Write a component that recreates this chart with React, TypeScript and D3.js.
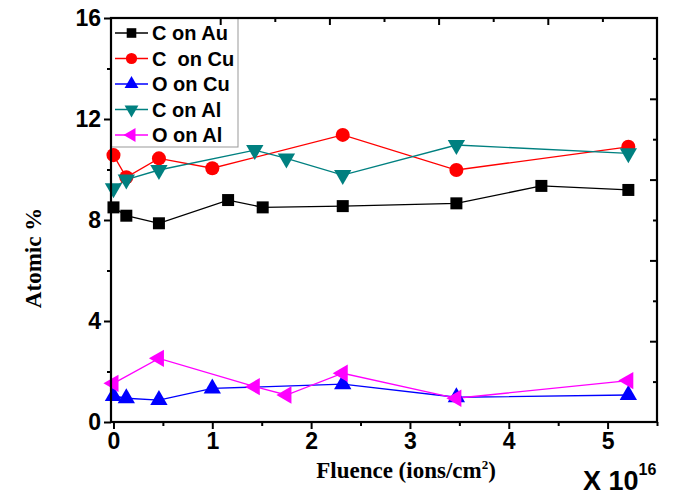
import {useEffect, useRef} from 'react';
import * as d3 from 'd3';

const [W, H] = [693, 495];

// fluence (x 10^16 ions/cm2) and atomic % per series
const auX = [0, 0.13, 0.46, 1.16, 1.51, 2.32, 3.47, 4.33, 5.21];
const cOnAu = [8.5, 8.17, 7.87, 8.79, 8.5, 8.55, 8.66, 9.35, 9.19];

const cuX = [0, 0.13, 0.46, 1.0, 2.32, 3.47, 5.21];
const cOnCu = [10.57, 9.69, 10.44, 10.05, 11.37, 9.98, 10.9];
const oOnCu = [1.03, 0.94, 0.87, 1.33, 1.5, 0.98, 1.07];

const alCX = [0, 0.13, 0.46, 1.43, 1.75, 2.32, 3.47, 5.21];
const cOnAl = [9.26, 9.6, 9.98, 10.77, 10.44, 9.78, 10.97, 10.64];

const alOX = [0, 0.46, 1.43, 1.75, 2.32, 3.47, 5.21];
const oOnAl = [1.53, 2.52, 1.4, 1.07, 1.93, 0.94, 1.64];

const seriesNames = ['C on Au', 'C  on Cu', 'O on Cu', 'C on Al', 'O on Al'];
const xTicks = [0, 1, 2, 3, 4, 5];
const yTicks = [0, 4, 8, 12, 16];

const series = [
    {name: seriesNames[0], xs: auX, ys: cOnAu, color: '#000000', shape: 'square'},
    {name: seriesNames[1], xs: cuX, ys: cOnCu, color: '#ff0000', shape: 'circle'},
    {name: seriesNames[2], xs: cuX, ys: oOnCu, color: '#0000ff', shape: 'up'},
    {name: seriesNames[3], xs: alCX, ys: cOnAl, color: '#008080', shape: 'down'},
    {name: seriesNames[4], xs: alOX, ys: oOnAl, color: '#ff00ff', shape: 'left'},
];

const markerPath = (shape) => {
    if (shape === 'square') return d3.symbol(d3.symbolSquare, 144)();
    if (shape === 'circle') return d3.symbol(d3.symbolCircle, 155)();
    return d3.symbol(d3.symbolTriangle, 130)();
};
const markerRot = {square: 0, circle: 0, up: 0, down: 180, left: -90};

function App() {
    const svgRef = useRef(null);

    useEffect(() => {
        const svg = d3.select(svgRef.current);
        svg.selectAll('*').remove();

        const x = d3.scaleLinear().domain([-0.025, 5.5]).range([111, 657]);
        const y = d3.scaleLinear().domain([0, 16]).range([422, 18]);
        const [x0, x1] = x.range();
        const [y0, y1] = y.range();
        const font = '"Liberation Sans", Arial, sans-serif';
        const serif = '"Liberation Serif", "Times New Roman", serif';

        // lines + markers
        series.forEach(s => {
            const pts = s.xs.map((v, i) => [v, s.ys[i]]);
            const line = d3.line().x(d => x(d[0])).y(d => y(d[1]));
            svg.append('path').attr('d', line(pts)).attr('fill', 'none')
                .attr('stroke', s.color).attr('stroke-width', 1.3);
        });
        series.forEach(s => {
            const pts = s.xs.map((v, i) => [v, s.ys[i]]);
            svg.append('g').selectAll('path').data(pts).enter().append('path')
                .attr('d', markerPath(s.shape))
                .attr('transform', d => `translate(${x(d[0])},${y(d[1])}) rotate(${markerRot[s.shape]})`)
                .attr('fill', s.color);
        });

        // legend
        const lg = svg.append('g');
        lg.append('rect').attr('x', x0).attr('y', y1).attr('width', 127).attr('height', 129)
            .attr('fill', '#fff').attr('stroke', '#999').attr('stroke-width', 1);
        series.forEach((s, i) => {
            const ly = 33 + i * 25.5;
            lg.append('line').attr('x1', 115).attr('x2', 148).attr('y1', ly).attr('y2', ly)
                .attr('stroke', s.color).attr('stroke-width', 1.5);
            lg.append('path').attr('d', markerPath(s.shape))
                .attr('transform', `translate(131.5,${ly}) rotate(${markerRot[s.shape]}) scale(0.8)`)
                .attr('fill', s.color);
            lg.append('text').attr('x', 152).attr('y', ly + 7).text(s.name)
                .style('white-space', 'pre').style('font-family', font)
                .style('font-weight', 'bold').style('font-size', '20px');
        });

        // bottom axis
        const bottom = svg.append('g').attr('transform', `translate(0,${y0})`);
        bottom.call(d3.axisBottom(x).tickValues(xTicks).tickSize(7).tickPadding(4).tickFormat(d3.format('d')));
        bottom.append('g').call(d3.axisBottom(x).tickValues(d3.range(0.5, 5.6, 1)).tickSize(4).tickFormat(''));
        // left axis
        const left = svg.append('g').attr('transform', `translate(${x0},0)`);
        left.call(d3.axisLeft(y).tickValues(yTicks).tickSize(7).tickPadding(3));
        left.append('g').call(d3.axisLeft(y).tickValues([2, 6, 10, 14]).tickSize(4).tickFormat(''));
        [bottom, left].forEach(g => {
            g.selectAll('.domain').remove();
            g.selectAll('line').attr('stroke', '#000').attr('stroke-width', 2);
            g.selectAll('text').style('font-family', font).style('font-weight', 'bold')
                .style('font-size', '23px').attr('fill', '#000');
        });

        // top / right inward ticks at tenths of the frame
        const fx = d3.scaleLinear().domain([0, 1]).range([x0, x1]);
        const fy = d3.scaleLinear().domain([0, 1]).range([y0, y1]);
        const top = svg.append('g').attr('transform', `translate(0,${y1})`);
        top.call(d3.axisBottom(fx).tickValues([0.2, 0.4, 0.6, 0.8]).tickSize(7).tickFormat(''));
        top.append('g').call(d3.axisBottom(fx).tickValues([0.3, 0.5, 0.7, 0.9]).tickSize(4).tickFormat(''));
        const right = svg.append('g').attr('transform', `translate(${x1},0)`);
        right.call(d3.axisLeft(fy).tickValues([0.2, 0.4, 0.6, 0.8]).tickSize(7).tickFormat(''));
        right.append('g').call(d3.axisLeft(fy).tickValues([0.1, 0.3, 0.5, 0.7, 0.9]).tickSize(4).tickFormat(''));
        [top, right].forEach(g => {
            g.selectAll('.domain').remove();
            g.selectAll('line').attr('stroke', '#000').attr('stroke-width', 2);
        });

        // frame
        svg.append('rect').attr('x', x0).attr('y', y1).attr('width', x1 - x0).attr('height', y0 - y1)
            .attr('fill', 'none').attr('stroke', '#000').attr('stroke-width', 2.2);

        // titles
        svg.append('text').attr('x', 406).attr('y', 478).attr('text-anchor', 'middle')
            .style('font-family', serif).style('font-weight', 'bold').style('font-size', '23px')
            .html('Fluence (ions/cm<tspan dy="-9" font-size="13px">2</tspan><tspan dy="9">)</tspan>');
        svg.append('text').attr('transform', 'translate(41,258) rotate(-90)').attr('text-anchor', 'middle')
            .style('font-family', serif).style('font-weight', 'bold').style('font-size', '23px')
            .text('Atomic %');
        svg.append('text').attr('x', 583).attr('y', 490)
            .style('font-family', font).style('font-weight', 'bold').style('font-size', '27px')
            .html('X 10<tspan dy="-15" font-size="16px">16</tspan>');
    }, []);

    return (
        <svg ref={svgRef} width={W} height={H}
             style={{position: 'absolute', left: 0, top: 0, background: '#fff'}} />
    );
}

export default App;
